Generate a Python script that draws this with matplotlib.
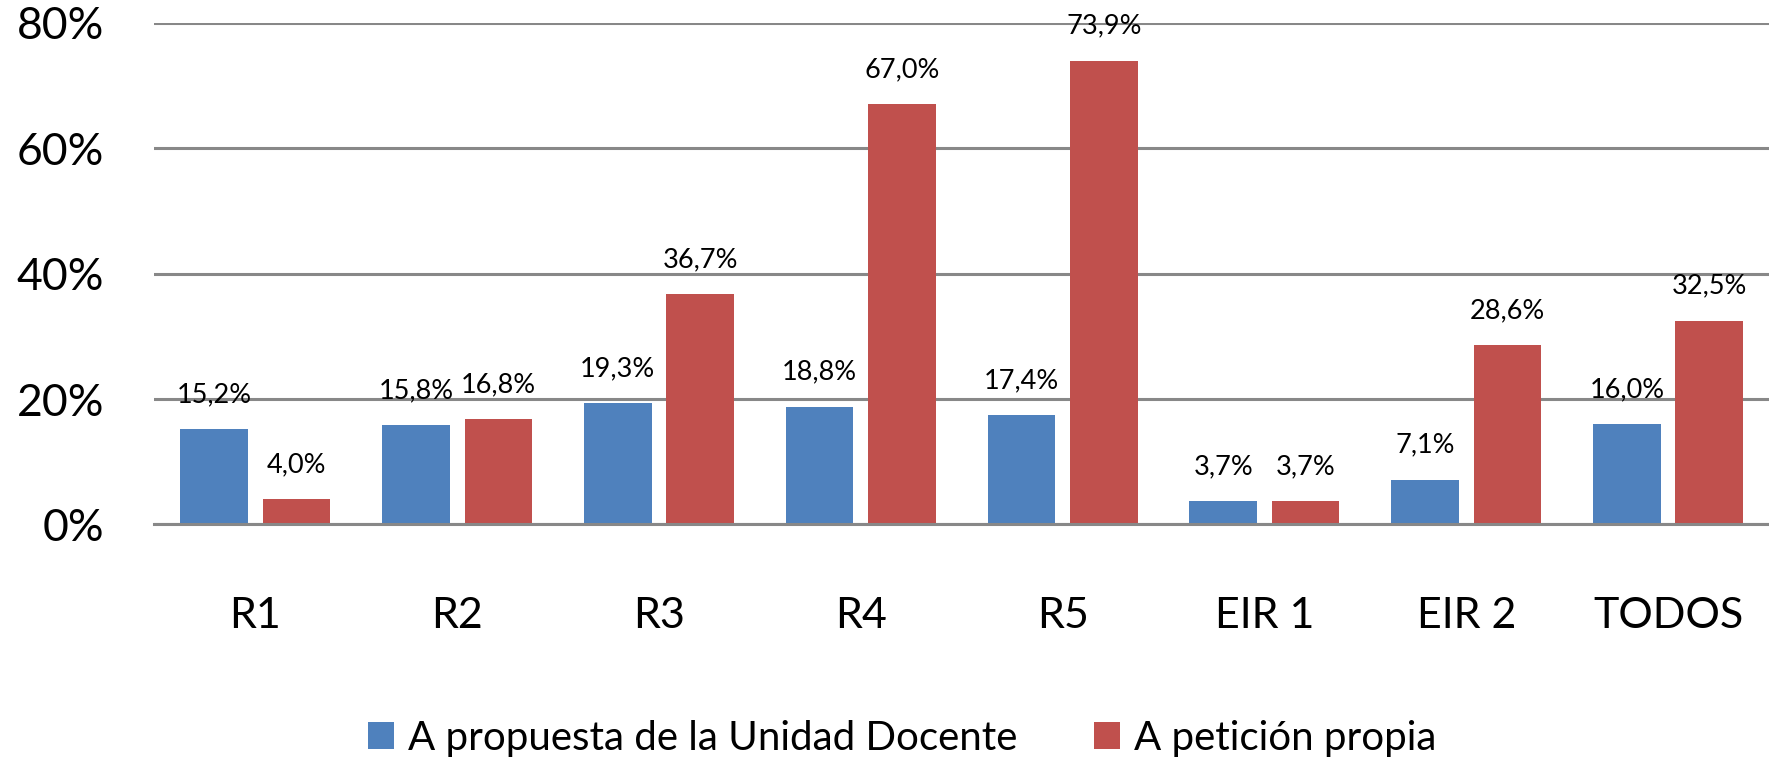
"""Grouped bar chart: A propuesta de la Unidad Docente vs A petición propia."""

import matplotlib

matplotlib.use("Agg")
import matplotlib.pyplot as plt
import numpy as np

categories = ["R1", "R2", "R3", "R4", "R5", "EIR 1", "EIR 2", "TODOS"]
propuesta = [15.2, 15.8, 19.3, 18.8, 17.4, 3.7, 7.1, 16.0]
peticion = [4.0, 16.8, 36.7, 67.0, 73.9, 3.7, 28.6, 32.5]
series_names = ["A propuesta de la Unidad Docente", "A petición propia"]
yticks = [0, 20, 40, 60, 80]

plt.rcParams["font.family"] = ["Lato", "DejaVu Sans"]

fig = plt.figure(figsize=(17.69, 7.61), dpi=100)
ax = fig.add_axes([0.0873, 0.3108, 0.9127, 0.6595])

x = np.arange(len(categories))
width = 0.335
offset = 0.204
blue = "#4F81BD"
red = "#C0504D"

b1 = ax.bar(x - offset, propuesta, width, color=blue, label=series_names[0])
b2 = ax.bar(x + offset, peticion, width, color=red, label=series_names[1])

for bars, vals in ((b1, propuesta), (b2, peticion)):
    for bar, v in zip(bars, vals):
        ax.annotate(
            f"{v:.1f}%".replace(".", ","),
            (bar.get_x() + bar.get_width() / 2, v),
            xytext=(0, 16),
            textcoords="offset points",
            ha="center",
            va="bottom",
            fontsize=19.5,
        )

ax.set_xlim(-0.5, len(categories) - 0.5)
ax.set_ylim(0, 80)
ax.set_yticks(yticks)
ax.set_yticklabels([f"{t}%" for t in yticks])
ax.set_xticks(x)
ax.set_xticklabels(categories)
ax.tick_params(axis="y", length=0, pad=36, labelsize=32)
ax.tick_params(axis="x", length=0, pad=52, labelsize=31)
ax.grid(True, axis="y", color="#888888", linewidth=2.2)
ax.set_axisbelow(True)
for side in ["top", "right", "left"]:
    ax.spines[side].set_visible(False)
ax.spines["bottom"].set_color("#888888")
ax.spines["bottom"].set_linewidth(2.2)

fig.legend(
    loc="center",
    bbox_to_anchor=(0.51, 0.03),
    ncol=2,
    frameon=False,
    fontsize=29,
    handlelength=0.65,
    handleheight=0.65,
    handletextpad=0.35,
    columnspacing=1.9,
)

fig.savefig("out.png", dpi=100)
